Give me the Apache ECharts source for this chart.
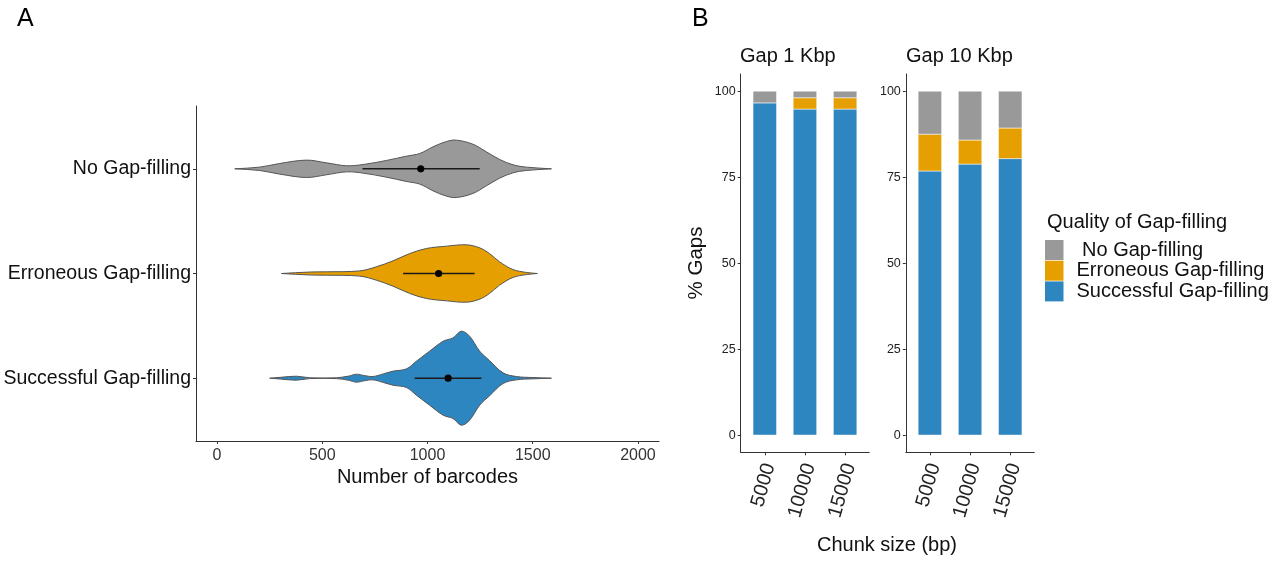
<!DOCTYPE html>
<html><head><meta charset="utf-8">
<script src="https://cdn.jsdelivr.net/npm/echarts@6/dist/echarts.min.js"></script>
<style>html,body{margin:0;padding:0;background:#fff}#chart{width:1282px;height:561px}</style>
</head><body><div id="chart"></div>
<script>
// ---------- shared ----------
const qualityNames = [' No Gap-filling', 'Erroneous Gap-filling', 'Successful Gap-filling'];
const qualityColors = ['#999999', '#E69F00', '#2E86C1'];

// ---------- Panel A: violins (bottom to top) ----------
const violinCategories = ['Successful Gap-filling', 'Erroneous Gap-filling', 'No Gap-filling'];
const barcodeTicks = [0, 500, 1000, 1500, 2000];

const successfulX = [250, 300, 377, 440, 567, 625, 662, 700, 741, 790, 836, 900, 947, 1010, 1074, 1121, 1161, 1200, 1248, 1295, 1359, 1422, 1502, 1589];
const successfulW = [0, 0.008, 0.019, 0.004, 0.004, 0.02, 0.038, 0.025, 0.016, 0.041, 0.067, 0.089, 0.162, 0.258, 0.353, 0.385, 0.449, 0.401, 0.258, 0.168, 0.051, 0.016, 0.006, 0];

const erroneousX = [306, 440, 520, 678, 757, 836, 915, 995, 1090, 1185, 1248, 1295, 1343, 1406, 1470, 1522];
const erroneousW = [0, 0.014, 0.016, 0.025, 0.064, 0.121, 0.19, 0.239, 0.261, 0.274, 0.245, 0.19, 0.111, 0.038, 0.01, 0];

const noGapX = [84, 203, 298, 425, 520, 615, 694, 805, 900, 963, 1026, 1090, 1137, 1216, 1280, 1343, 1407, 1470, 1589];
const noGapW = [0, 0.016, 0.051, 0.083, 0.057, 0.029, 0.041, 0.08, 0.121, 0.146, 0.21, 0.261, 0.274, 0.235, 0.162, 0.089, 0.038, 0.016, 0];

const violinMedians = [1098, 1053, 968];
const violinQ1 = [939, 884, 691];
const violinQ3 = [1256, 1224, 1248];

// ---------- Panel B: stacked bars ----------
const chunkSizes = ['5000', '10000', '15000'];
const facetTitles = ['Gap 1 Kbp', 'Gap 10 Kbp'];
const percentTicks = [0, 25, 50, 75, 100];
const gap1Successful = [96.6, 94.8, 94.8];
const gap1Erroneous = [0, 3.3, 3.3];
const gap1None = [3.4, 1.9, 1.9];
const gap10Successful = [76.8, 78.8, 80.4];
const gap10Erroneous = [10.7, 7.0, 8.9];
const gap10None = [12.5, 14.2, 10.7];

// ---------- build ----------
const FONT = "'Liberation Sans', Arial, sans-serif";
const violinX = [successfulX, erroneousX, noGapX];
const violinW = [successfulW, erroneousW, noGapW];
const violinColors = [qualityColors[2], qualityColors[1], qualityColors[0]];

const chart = echarts.init(document.getElementById('chart'), null, {renderer: 'canvas'});

function violinRender(params, api) {
  const i = params.dataIndex;
  const pos = i + 1;
  const xs = violinX[i], ws = violinW[i];
  const pts = [];
  for (let k = 0; k < xs.length; k++) pts.push(api.coord([xs[k], pos + ws[k]]));
  for (let k = xs.length - 1; k >= 0; k--) pts.push(api.coord([xs[k], pos - ws[k]]));
  const a = api.coord([violinQ1[i], pos]);
  const b = api.coord([violinQ3[i], pos]);
  const m = api.coord([violinMedians[i], pos]);
  return {
    type: 'group',
    children: [
      {type: 'polygon', shape: {points: pts, smooth: 0.35}, style: {fill: violinColors[i], stroke: '#555555', lineWidth: 1}},
      {type: 'line', shape: {x1: a[0], y1: a[1], x2: b[0], y2: b[1]}, style: {stroke: '#1a1a1a', lineWidth: 1.5}},
      {type: 'circle', shape: {cx: m[0], cy: m[1], r: 3.6}, style: {fill: '#000'}}
    ]
  };
}

// stacked bars: build [x, bottom, top, colorIndex] rows from the arrays
function stackRows(succ, err, none) {
  const rows = [];
  succ.forEach((s, k) => {
    const e = err[k], n = none[k];
    rows.push([k + 1, 0, s, 2]);
    rows.push([k + 1, s, s + e, 1]);
    rows.push([k + 1, s + e, s + e + n, 0]);
  });
  return rows;
}
const BAR_W = 23.5;
function barRender(params, api) {
  const x = api.value(0), lo = api.value(1), hi = api.value(2), c = api.value(3);
  const p0 = api.coord([x, lo]);
  const p1 = api.coord([x, hi]);
  if (hi - lo <= 0) return null;
  return {
    type: 'rect',
    shape: {x: p0[0] - BAR_W / 2, y: p1[1], width: BAR_W, height: p0[1] - p1[1]},
    style: {fill: qualityColors[c], stroke: 'rgba(255,255,255,0.75)', lineWidth: 0.7}
  };
}

const axisLineStyle = {lineStyle: {color: '#333', width: 1}};
const tickStyle = {lineStyle: {color: '#333', width: 1}, length: 3};

function pctYAxis(gi) {
  return {
    type: 'value', gridIndex: gi, min: -5, max: 105,
    axisLine: Object.assign({show: true, onZero: false}, axisLineStyle),
    axisTick: Object.assign({show: true, customValues: percentTicks}, tickStyle),
    axisLabel: {customValues: percentTicks, formatter: v => String(v), fontSize: 12.5, color: '#222', margin: 5, fontFamily: FONT},
    splitLine: {show: false}
  };
}
function chunkXAxis(gi) {
  return {
    type: 'value', gridIndex: gi, min: 0.4, max: 3.6,
    axisLine: Object.assign({show: true, onZero: false}, axisLineStyle),
    axisTick: Object.assign({show: true, customValues: [1, 2, 3]}, tickStyle),
    axisLabel: {customValues: [1, 2, 3], formatter: v => chunkSizes[Math.round(v) - 1], rotate: 74,
      fontSize: 20, color: '#222', margin: 10, verticalAlign: 'top', lineHeight: 10, fontFamily: FONT},
    splitLine: {show: false}
  };
}

const legendItems = [];
qualityNames.forEach((n, k) => {
  legendItems.push({type: 'rect', shape: {x: 1045, y: 240 + k * 20.7, width: 18.5, height: 20}, style: {fill: qualityColors[k]}});
  legendItems.push({type: 'text', x: 1076.5, y: 250 + k * 20.7,
    style: {text: n, fontSize: 20, fontFamily: FONT, fill: '#111', verticalAlign: 'middle', align: 'left'}});
});

const option = {
  animation: false,
  backgroundColor: '#fff',
  textStyle: {fontFamily: FONT},
  grid: [
    {left: 196, top: 106, width: 463, height: 335, containLabel: false},
    {left: 740.7, top: 74, width: 128.5, height: 378.3, containLabel: false},
    {left: 905.8, top: 74, width: 128.5, height: 378.3, containLabel: false}
  ],
  xAxis: [
    {
      type: 'value', gridIndex: 0, min: -100, max: 2100,
      axisLine: Object.assign({show: true, onZero: false}, axisLineStyle),
      axisTick: Object.assign({show: true, customValues: barcodeTicks}, tickStyle),
      axisLabel: {customValues: barcodeTicks, formatter: v => String(v), fontSize: 16, color: '#333', margin: 7, fontFamily: FONT},
      splitLine: {show: false}
    },
    chunkXAxis(1), chunkXAxis(2)
  ],
  yAxis: [
    {
      type: 'value', gridIndex: 0, min: 0.4, max: 3.6,
      axisLine: Object.assign({show: true, onZero: false}, axisLineStyle),
      axisTick: Object.assign({show: true, customValues: [1, 2, 3]}, tickStyle),
      axisLabel: {customValues: [1, 2, 3], formatter: v => violinCategories[Math.round(v) - 1],
        fontSize: 19.5, color: '#111', margin: 5, fontFamily: FONT},
      splitLine: {show: false}
    },
    pctYAxis(1), pctYAxis(2)
  ],
  series: [
    {
      type: 'custom', xAxisIndex: 0, yAxisIndex: 0,
      renderItem: violinRender,
      encode: {x: 0, y: 1},
      data: violinCategories.map((c, i) => [violinMedians[i], i + 1]),
      clip: false
    },
    {
      type: 'custom', name: facetTitles[0], xAxisIndex: 1, yAxisIndex: 1,
      renderItem: barRender, encode: {x: 0, y: [1, 2]},
      data: stackRows(gap1Successful, gap1Erroneous, gap1None)
    },
    {
      type: 'custom', name: facetTitles[1], xAxisIndex: 2, yAxisIndex: 2,
      renderItem: barRender, encode: {x: 0, y: [1, 2]},
      data: stackRows(gap10Successful, gap10Erroneous, gap10None)
    }
  ],
  graphic: [
    {type: 'text', x: 17, y: 19, style: {text: 'A', fontSize: 25, fontFamily: FONT, fill: '#000', verticalAlign: 'middle', align: 'left'}},
    {type: 'text', x: 692, y: 19, style: {text: 'B', fontSize: 25, fontFamily: FONT, fill: '#000', verticalAlign: 'middle', align: 'left'}},
    {type: 'text', x: 427.5, y: 477, style: {text: 'Number of barcodes', fontSize: 20, fontFamily: FONT, fill: '#111', verticalAlign: 'middle', align: 'center'}},
    {type: 'text', x: 740, y: 56, style: {text: facetTitles[0], fontSize: 20, fontFamily: FONT, fill: '#111', verticalAlign: 'middle', align: 'left'}},
    {type: 'text', x: 906, y: 56, style: {text: facetTitles[1], fontSize: 20, fontFamily: FONT, fill: '#111', verticalAlign: 'middle', align: 'left'}},
    {type: 'text', x: 696, y: 263, rotation: Math.PI / 2, style: {text: '% Gaps', fontSize: 20.5, fontFamily: FONT, fill: '#111', verticalAlign: 'middle', align: 'center'}},
    {type: 'text', x: 887, y: 545, style: {text: 'Chunk size (bp)', fontSize: 20, fontFamily: FONT, fill: '#111', verticalAlign: 'middle', align: 'center'}},
    {type: 'text', x: 1047, y: 222, style: {text: 'Quality of Gap-filling', fontSize: 20, fontFamily: FONT, fill: '#111', verticalAlign: 'middle', align: 'left'}}
  ].concat(legendItems)
};
chart.setOption(option);
</script>
</body></html>
